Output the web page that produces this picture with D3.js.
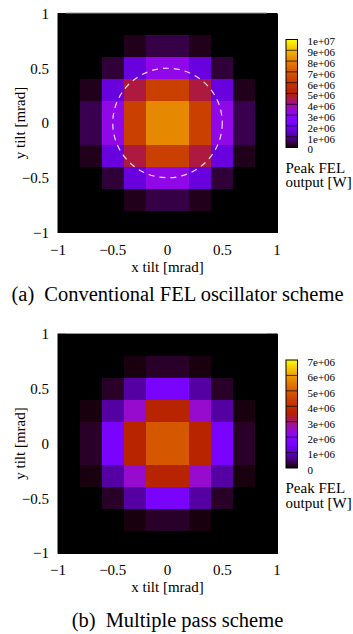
<!DOCTYPE html>
<html>
<head>
<meta charset="utf-8">
<script src="https://cdn.jsdelivr.net/npm/d3@7"></script>
<style>
  body { margin: 0; background: #fff; }
  svg { display: block; }
</style>
</head>
<body>
<div id="chart"></div>
<script>
// cell centres [mrad]
const cellX = [-0.9, -0.7, -0.5, -0.3, -0.1, 0.1, 0.3, 0.5, 0.7, 0.9]
const cellY = [0.9, 0.7, 0.5, 0.3, 0.1, -0.1, -0.3, -0.5, -0.7, -0.9]

// peak FEL output [W], rows top (y=0.9) to bottom (y=-0.9)
const gridA = [
  [0, 0, 0, 0, 0, 0, 0, 0, 0, 0],
  [0, 0, 0, 0.17e6, 0.45e6, 0.45e6, 0.17e6, 0, 0, 0],
  [0, 0, 0.35e6, 1.7e6, 3.2e6, 3.2e6, 1.7e6, 0.35e6, 0, 0],
  [0, 0.17e6, 1.7e6, 4.6e6, 6.3e6, 6.3e6, 4.6e6, 1.7e6, 0.17e6, 0],
  [0, 0.5e6, 3.2e6, 6.3e6, 8.1e6, 8.1e6, 6.3e6, 3.2e6, 0.5e6, 0],
  [0, 0.5e6, 3.2e6, 6.3e6, 8.1e6, 8.1e6, 6.3e6, 3.2e6, 0.5e6, 0],
  [0, 0.17e6, 1.7e6, 4.6e6, 6.3e6, 6.3e6, 4.6e6, 1.7e6, 0.17e6, 0],
  [0, 0, 0.35e6, 1.7e6, 3.2e6, 3.2e6, 1.7e6, 0.35e6, 0, 0],
  [0, 0, 0, 0.17e6, 0.45e6, 0.45e6, 0.17e6, 0, 0, 0],
  [0, 0, 0, 0, 0, 0, 0, 0, 0, 0]
]

const gridB = [
  [0, 0, 0, 0, 0, 0, 0, 0, 0, 0],
  [0, 0, 0, 0.06e6, 0.175e6, 0.175e6, 0.06e6, 0, 0, 0],
  [0, 0, 0.175e6, 0.77e6, 1.58e6, 1.58e6, 0.77e6, 0.175e6, 0, 0],
  [0, 0.06e6, 0.77e6, 2.45e6, 3.64e6, 3.64e6, 2.45e6, 0.77e6, 0.06e6, 0],
  [0, 0.175e6, 1.58e6, 3.64e6, 4.9e6, 4.9e6, 3.64e6, 1.58e6, 0.175e6, 0],
  [0, 0.175e6, 1.58e6, 3.64e6, 4.9e6, 4.9e6, 3.64e6, 1.58e6, 0.175e6, 0],
  [0, 0.06e6, 0.77e6, 2.45e6, 3.64e6, 3.64e6, 2.45e6, 0.77e6, 0.06e6, 0],
  [0, 0, 0.175e6, 0.77e6, 1.58e6, 1.58e6, 0.77e6, 0.175e6, 0, 0],
  [0, 0, 0, 0.06e6, 0.175e6, 0.175e6, 0.06e6, 0, 0, 0],
  [0, 0, 0, 0, 0, 0, 0, 0, 0, 0]
]

const cbTicksA = [0, 1e6, 2e6, 3e6, 4e6, 5e6, 6e6, 7e6, 8e6, 9e6, 1e7]
const cbTicksB = [0, 1e6, 2e6, 3e6, 4e6, 5e6, 6e6, 7e6]
const axisTicks = [-1, -0.5, 0, 0.5, 1]
const ringRadius = 0.5

const W = 353
const H = 634
const cellHalf = 0.1
const SERIF = '"Liberation Serif"'

// gnuplot default palette (rgbformulae 7,5,15)
function palette (t) {
  t = Math.max(0, Math.min(1, t))
  return d3.rgb(
    255 * Math.sqrt(t),
    255 * t * t * t,
    255 * Math.max(0, Math.sin(2 * Math.PI * t))
  ).formatHex()
}

const fmtCb = v => v === 0 ? '0' : v.toExponential().replace(/e\+(\d)$/, 'e+0$1')
const fmtAxis = d3.format('')

const svg = d3.select('#chart').append('svg')
  .attr('width', W)
  .attr('height', H)
  .attr('viewBox', `0 0 ${W} ${H}`)

const defs = svg.append('defs')

function label (sel, size) {
  return sel.append('text')
    .attr('font-family', SERIF)
    .attr('font-size', size)
    .attr('fill', '#000')
}

function drawPanel (opts) {
  const { id, top, grid, cbTicks, ring, caption, tag, captionY } = opts
  const left = 58
  const size = 219
  const cbMax = d3.max(cbTicks)

  const x = d3.scaleLinear().domain([-1, 1]).range([left, left + size])
  const y = d3.scaleLinear().domain([-1, 1]).range([top + size, top])
  const color = d3.scaleSequential(palette).domain([0, cbMax])

  const g = svg.append('g').attr('class', 'panel-' + id)

  // ── CELLS ─────────────────────────────────────────────
  g.append('rect')
    .attr('x', left).attr('y', top)
    .attr('width', size).attr('height', size)
    .attr('fill', color(0))

  const cells = []
  grid.forEach((row, i) => row.forEach((v, j) => cells.push({ cx: cellX[j], cy: cellY[i], v })))

  g.append('g')
    .attr('shape-rendering', 'crispEdges')
    .selectAll('rect')
    .data(cells)
    .join('rect')
    .attr('x', d => x(d.cx - cellHalf))
    .attr('y', d => y(d.cy + cellHalf))
    .attr('width', d => x(d.cx + cellHalf) - x(d.cx - cellHalf) + 0.5)
    .attr('height', d => y(d.cy - cellHalf) - y(d.cy + cellHalf) + 0.5)
    .attr('fill', d => color(d.v))

  if (ring) {
    g.append('circle')
      .attr('cx', x(0))
      .attr('cy', y(0))
      .attr('r', x(ringRadius) - x(0))
      .attr('fill', 'none')
      .attr('stroke', '#fff')
      .attr('stroke-opacity', 0.85)
      .attr('stroke-width', 1.2)
      .attr('stroke-dasharray', '6 5')
  }

  // frame
  g.append('rect')
    .attr('x', left).attr('y', top)
    .attr('width', size).attr('height', size)
    .attr('fill', 'none').attr('stroke', '#000').attr('stroke-width', 1)
  g.append('line')
    .attr('x1', left + 8).attr('x2', left + size - 10)
    .attr('y1', top - 0.5).attr('y2', top - 0.5)
    .attr('stroke', '#9a9a9a').attr('stroke-width', 1)

  // ── AXES ──────────────────────────────────────────────
  const xt = g.append('g')
  axisTicks.forEach(d => {
    label(xt, 15)
      .attr('x', x(d))
      .attr('y', top + size + 17)
      .attr('dy', '0.35em')
      .attr('text-anchor', 'middle')
      .text(fmtAxis(d))
  })

  const yt = g.append('g')
  axisTicks.forEach(d => {
    label(yt, 15)
      .attr('x', left - 9)
      .attr('y', y(d))
      .attr('dy', '0.35em')
      .attr('text-anchor', 'end')
      .text(fmtAxis(d))
  })

  label(g, 15)
    .attr('x', x(0))
    .attr('y', top + size + 34)
    .attr('dy', '0.35em')
    .attr('text-anchor', 'middle')
    .text('x tilt [mrad]')

  label(g, 15)
    .attr('transform', `translate(20, ${y(0)}) rotate(-90)`)
    .attr('dy', '0.35em')
    .attr('text-anchor', 'middle')
    .text('y tilt [mrad]')

  // ── COLOUR BAR ────────────────────────────────────────
  const cbLeft = 286
  const cbWidth = 11.5
  const cbTop = top + 26
  const cbHeight = 108
  const cy = d3.scaleLinear().domain([0, cbMax]).range([cbTop + cbHeight, cbTop])

  const grad = defs.append('linearGradient')
    .attr('id', 'grad-' + id)
    .attr('x1', 0).attr('y1', 1).attr('x2', 0).attr('y2', 0)
  grad.selectAll('stop')
    .data(d3.range(0, 1.0001, 0.02))
    .join('stop')
    .attr('offset', d => d)
    .attr('stop-color', d => palette(d))

  g.append('rect')
    .attr('x', cbLeft).attr('y', cbTop)
    .attr('width', cbWidth).attr('height', cbHeight)
    .attr('fill', `url(#grad-${id})`)
    .attr('stroke', '#000').attr('stroke-width', 1)

  g.append('g')
    .selectAll('line')
    .data(cbTicks.slice(1, -1))
    .join('line')
    .attr('x1', cbLeft).attr('x2', cbLeft + cbWidth)
    .attr('y1', d => cy(d)).attr('y2', d => cy(d))
    .attr('stroke', '#000').attr('stroke-opacity', 0.7).attr('stroke-width', 1)

  const cbt = g.append('g')
  cbTicks.forEach(d => {
    label(cbt, 11)
      .attr('x', cbLeft + cbWidth + 10)
      .attr('y', cy(d) + 2)
      .attr('dy', '0.35em')
      .text(fmtCb(d))
  })

  const cbLabel = label(g, 15)
    .attr('x', cbLeft - 0.5)
    .attr('y', cbTop + cbHeight + 25)
  cbLabel.append('tspan').attr('x', cbLeft - 0.5).text('Peak FEL')
  cbLabel.append('tspan').attr('x', cbLeft - 0.5).attr('dy', 14.5).text('output [W]')

  // ── CAPTION ───────────────────────────────────────────
  const cap = label(g, 20.5)
    .attr('x', 177.5)
    .attr('y', captionY)
    .attr('text-anchor', 'middle')
  cap.append('tspan').text(tag)
  cap.append('tspan').attr('dx', 10).text(caption)
}

drawPanel({
  id: 'a',
  top: 13.5,
  grid: gridA,
  cbTicks: cbTicksA,
  ring: true,
  tag: '(a)',
  caption: 'Conventional FEL oscillator scheme',
  captionY: 301
})

drawPanel({
  id: 'b',
  top: 334,
  grid: gridB,
  cbTicks: cbTicksB,
  ring: false,
  tag: '(b)',
  caption: 'Multiple pass scheme',
  captionY: 627
})
</script>
</body>
</html>
